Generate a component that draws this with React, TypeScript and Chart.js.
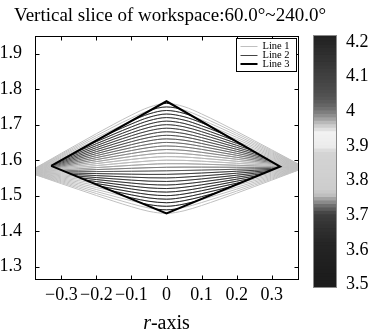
import React, { useEffect, useRef } from 'react';
import { Chart, registerables } from 'chart.js';
Chart.register(...registerables);

const FONT = '"Liberation Serif", "Times New Roman", serif';

// ---- values ----
const titleText = 'Vertical slice of workspace:60.0°~240.0°';
const xTicks = [-0.3, -0.2, -0.1, 0, 0.1, 0.2, 0.3];
const xTickLabels = ['−0.3', '−0.2', '−0.1', '0', '0.1', '0.2', '0.3'];
const yTicks = [1.3, 1.4, 1.5, 1.6, 1.7, 1.8, 1.9];
const yTickLabels = ['1.3', '1.4', '1.5', '1.6', '1.7', '1.8', '1.9'];
const colorTicks = [3.5, 3.6, 3.7, 3.8, 3.9, 4.0, 4.1, 4.2];
const colorTickLabels = ['3.5', '3.6', '3.7', '3.8', '3.9', '4', '4.1', '4.2'];

// boundary (Line 3)
const diamondX = [-0.329, 0, 0.324, 0, -0.329];
const diamondY = [1.584, 1.766, 1.582, 1.45, 1.584];

// family of slice curves: height of each curve at r = 0
const arcPeaks = [
  1.45, 1.46, 1.47, 1.48, 1.49, 1.5, 1.51, 1.52, 1.53, 1.54, 1.55, 1.56, 1.57, 1.58, 1.59, 1.6,
  1.61, 1.62, 1.63, 1.64, 1.65, 1.66, 1.67, 1.68, 1.69, 1.7, 1.71, 1.72, 1.73, 1.74, 1.75, 1.76,
];
// colour-bar value of each curve
const arcValues = [
  3.55, 3.57, 3.59, 3.61, 3.63, 3.64, 3.65, 3.66, 3.67, 3.68, 3.69, 3.7, 3.715, 3.73, 3.745, 3.755,
  3.965, 3.975, 3.99, 4.0, 4.01, 4.03, 4.05, 4.07, 4.09, 4.11, 4.13, 4.15, 4.16, 4.17, 4.18, 4.2,
];
// shared shape of the curves (sampled r positions and relative rise)
const profileX = [-0.395, -0.35, -0.3, -0.25, -0.2, -0.15, -0.1, -0.05, 0, 0.05, 0.1, 0.15, 0.2, 0.25, 0.3, 0.35, 0.395];
const profileShape = [0, 0.131, 0.276, 0.419, 0.562, 0.701, 0.833, 0.947, 1, 0.947, 0.833, 0.701, 0.562, 0.419, 0.276, 0.131, 0];
// where the curves meet at the left and right ends
const arcTips = [1.566, 1.579];

// grey colour map of the colour bar (value -> grey level)
const cmapValues = [3.49, 3.55, 3.62, 3.66, 3.7, 3.72, 3.74, 3.755, 3.77, 3.88, 3.895, 3.935, 3.95, 3.965, 3.98, 4.0, 4.02, 4.05, 4.1, 4.15, 4.22];
const cmapGrays = [28, 30, 38, 48, 62, 100, 150, 190, 205, 212, 235, 242, 215, 185, 150, 118, 95, 78, 64, 50, 32];

function grayAt(v: number): string {
  let g = cmapGrays[0];
  if (v >= cmapValues[cmapValues.length - 1]) g = cmapGrays[cmapGrays.length - 1];
  else {
    for (let i = 0; i < cmapValues.length - 1; i++) {
      if (v >= cmapValues[i] && v <= cmapValues[i + 1]) {
        const t = (v - cmapValues[i]) / (cmapValues[i + 1] - cmapValues[i]);
        g = cmapGrays[i] + (cmapGrays[i + 1] - cmapGrays[i]) * t;
        break;
      }
    }
  }
  const c = Math.round(g);
  return `rgb(${c},${c},${c})`;
}

const STRIDE = profileX.length + 1;

function buildArcs() {
  const pts: { x: number; y: number | null }[] = [];
  const x0 = profileX[0];
  const x1 = profileX[profileX.length - 1];
  const mid = (arcTips[0] + arcTips[1]) / 2;
  arcPeaks.forEach((peak) => {
    profileX.forEach((x, i) => {
      const t = (x - x0) / (x1 - x0);
      const base = arcTips[0] + (arcTips[1] - arcTips[0]) * t;
      pts.push({ x, y: base + (peak - mid) * profileShape[i] });
    });
    pts.push({ x: x1, y: null });
  });
  return pts;
}

const arcColors = arcValues.map(grayAt);
const OUTSIDE = 'rgb(192,192,192)';

const diamondClip = {
  id: 'diamondClip',
  beforeDatasetDraw(chart: any, args: any) {
    if (chart.data.datasets[args.index].label !== 'Line 2') return;
    const { x, y } = chart.scales;
    const ctx = chart.ctx;
    ctx.save();
    ctx.beginPath();
    diamondX.forEach((dx, i) => {
      const px = x.getPixelForValue(dx);
      const py = y.getPixelForValue(diamondY[i]);
      if (i === 0) ctx.moveTo(px, py);
      else ctx.lineTo(px, py);
    });
    ctx.closePath();
    ctx.clip();
  },
  afterDatasetDraw(chart: any, args: any) {
    if (chart.data.datasets[args.index].label !== 'Line 2') return;
    chart.ctx.restore();
  },
};

const frame = {
  id: 'frame',
  afterDatasetsDraw(chart: any) {
    const ctx = chart.ctx;
    const { left, right, top, bottom } = chart.chartArea;
    const { x, y } = chart.scales;
    const L = Math.floor(left) + 0.5;
    const R = Math.floor(right) + 0.5;
    const T = Math.floor(top) + 0.5;
    const B = Math.floor(bottom) + 0.5;
    ctx.save();
    ctx.strokeStyle = '#000';
    ctx.lineWidth = 1;
    ctx.beginPath();
    xTicks.forEach((v) => {
      const px = Math.round(x.getPixelForValue(v)) + 0.5;
      ctx.moveTo(px, B);
      ctx.lineTo(px, B - 4);
      ctx.moveTo(px, T);
      ctx.lineTo(px, T + 4);
    });
    yTicks.forEach((v) => {
      const py = Math.round(y.getPixelForValue(v)) + 0.5;
      ctx.moveTo(L, py);
      ctx.lineTo(L + 4, py);
      ctx.moveTo(R, py);
      ctx.lineTo(R - 4, py);
    });
    ctx.stroke();
    ctx.strokeRect(L, T, R - L, B - T);
    ctx.restore();
  },
};

const legendBox = {
  id: 'legendBox',
  afterDraw(chart: any) {
    const ctx = chart.ctx;
    const { right, top } = chart.chartArea;
    const bx = Math.round(right - 62) + 0.5;
    const by = Math.round(top + 2) + 0.5;
    const bw = 60;
    const bh = 33;
    ctx.save();
    ctx.fillStyle = '#fff';
    ctx.fillRect(bx, by, bw, bh);
    ctx.strokeStyle = '#000';
    ctx.lineWidth = 1;
    ctx.strokeRect(bx, by, bw, bh);
    const names = ['Line 1', 'Line 2', 'Line 3'];
    ctx.font = `10.5px ${FONT}`;
    ctx.textBaseline = 'middle';
    ctx.textAlign = 'left';
    names.forEach((name, i) => {
      const ds = chart.data.datasets.find((d: any) => d.label === name);
      const ry = by + 7 + i * 9.3;
      ctx.strokeStyle = ds.borderColor;
      ctx.lineWidth = ds.borderWidth;
      ctx.beginPath();
      ctx.moveTo(bx + 4, Math.round(ry) + (ds.borderWidth === 1 ? 0.5 : 0));
      ctx.lineTo(bx + 21, Math.round(ry) + (ds.borderWidth === 1 ? 0.5 : 0));
      ctx.stroke();
      ctx.fillStyle = '#000';
      ctx.fillText(name, bx + 26, ry + 0.5);
    });
    ctx.restore();
  },
};

const texts = {
  id: 'texts',
  afterDraw(chart: any) {
    const ctx = chart.ctx;
    const { left, right } = chart.chartArea;
    const cx = (left + right) / 2;
    ctx.save();
    ctx.fillStyle = '#000';
    ctx.textBaseline = 'alphabetic';
    // title
    ctx.textAlign = 'center';
    ctx.font = `19px ${FONT}`;
    ctx.fillText(titleText, 170, 21);
    // x-axis title
    ctx.textAlign = 'left';
    ctx.font = `italic 20px ${FONT}`;
    const w1 = ctx.measureText('r').width;
    ctx.font = `20px ${FONT}`;
    const w2 = ctx.measureText('-axis').width;
    const sx = cx - (w1 + w2) / 2;
    ctx.font = `italic 20px ${FONT}`;
    ctx.fillText('r', sx, 329);
    ctx.font = `20px ${FONT}`;
    ctx.fillText('-axis', sx + w1, 329);
    ctx.restore();
  },
};

const cbFrame = {
  id: 'cbFrame',
  afterDatasetsDraw(chart: any) {
    const ctx = chart.ctx;
    const { left, right, top, bottom } = chart.chartArea;
    ctx.save();
    ctx.strokeStyle = '#8a8a8a';
    ctx.lineWidth = 1;
    ctx.strokeRect(Math.floor(left) + 0.5, Math.floor(top) + 0.5, Math.round(right - left) - 1, Math.round(bottom - top) - 1);
    ctx.restore();
  },
};

export default function App() {
  const mainRef = useRef<HTMLCanvasElement | null>(null);
  const cbRef = useRef<HTMLCanvasElement | null>(null);

  useEffect(() => {
    if (!mainRef.current || !cbRef.current) return;
    const tickFont = { family: FONT, size: 18 };
    const diamond = diamondX.map((x, i) => ({ x, y: diamondY[i] }));

    const main = new Chart(mainRef.current, {
      type: 'line',
      data: {
        datasets: [
          {
            label: 'Line 3',
            data: diamond,
            borderColor: '#000',
            borderWidth: 2,
            pointRadius: 0,
            tension: 0,
            order: 0,
          },
          {
            label: 'Line 2',
            data: buildArcs(),
            borderColor: '#444',
            borderWidth: 1,
            pointRadius: 0,
            cubicInterpolationMode: 'monotone',
            segment: {
              borderColor: (c: any) => arcColors[Math.floor(c.p0DataIndex / STRIDE)],
            },
            order: 1,
          },
          {
            label: 'Line 1',
            data: buildArcs(),
            borderColor: OUTSIDE,
            borderWidth: 1,
            pointRadius: 0,
            cubicInterpolationMode: 'monotone',
            order: 2,
          },
        ],
      } as any,
      options: {
        animation: false,
        responsive: false,
        devicePixelRatio: 1,
        layout: { padding: { left: 0, right: 78, top: 36, bottom: 0 } },
        plugins: {
          legend: { display: false },
          tooltip: { enabled: false },
          title: { display: false },
        },
        scales: {
          x: {
            type: 'linear',
            min: -0.375,
            max: 0.375,
            afterBuildTicks: (s: any) => {
              s.ticks = xTicks.map((v) => ({ value: v }));
            },
            afterFit: (s: any) => {
              s.height = 54;
            },
            grid: { display: false },
            border: { display: false },
            ticks: {
              font: tickFont,
              color: '#000',
              padding: -3,
              maxRotation: 0,
              autoSkip: false,
              callback: (_v: any, i: number) => xTickLabels[i],
            },
          },
          y: {
            type: 'linear',
            min: 1.265,
            max: 1.95,
            afterBuildTicks: (s: any) => {
              s.ticks = yTicks.map((v) => ({ value: v }));
            },
            afterFit: (s: any) => {
              s.width = 35;
            },
            grid: { display: false },
            border: { display: false },
            ticks: {
              font: tickFont,
              color: '#000',
              padding: 5,
              autoSkip: false,
              callback: (_v: any, i: number) => yTickLabels[i],
            },
          },
        },
      } as any,
      plugins: [diamondClip, frame, legendBox, texts],
    });

    const bands: { lo: number; hi: number; color: string }[] = [];
    for (let k = 0; k < 73; k++) {
      const lo = 3.49 + k * 0.01;
      bands.push({ lo, hi: Math.min(lo + 0.0115, 4.22), color: grayAt(lo + 0.005) });
    }

    const cb = new Chart(cbRef.current, {
      type: 'bar',
      data: {
        labels: [''],
        datasets: bands.map((b) => ({
          data: [[b.lo, b.hi]],
          backgroundColor: b.color,
          borderWidth: 0,
          barPercentage: 1,
          categoryPercentage: 1,
          grouped: false,
        })),
      } as any,
      options: {
        animation: false,
        responsive: false,
        devicePixelRatio: 1,
        layout: { padding: { left: 13, right: 0, top: 35, bottom: 45 } },
        plugins: { legend: { display: false }, tooltip: { enabled: false }, title: { display: false } },
        scales: {
          x: { display: false },
          y: {
            position: 'right',
            min: 3.49,
            max: 4.22,
            afterBuildTicks: (s: any) => {
              s.ticks = colorTicks.map((v) => ({ value: v }));
            },
            afterFit: (s: any) => {
              s.width = 39;
            },
            grid: { display: false },
            border: { display: false },
            ticks: {
              font: tickFont,
              color: '#000',
              padding: 1,
              autoSkip: false,
              callback: (_v: any, i: number) => colorTickLabels[i],
            },
          },
        },
      } as any,
      plugins: [cbFrame],
    });

    return () => {
      main.destroy();
      cb.destroy();
    };
  }, []);

  return (
    <div style={{ position: 'fixed', left: 0, top: 0, width: 376, height: 333, background: '#fff' }}>
      <canvas ref={mainRef} width={376} height={333} style={{ position: 'absolute', left: 0, top: 0, display: 'block' }} />
      <canvas ref={cbRef} width={76} height={333} style={{ position: 'absolute', left: 300, top: 0, display: 'block' }} />
    </div>
  );
}
